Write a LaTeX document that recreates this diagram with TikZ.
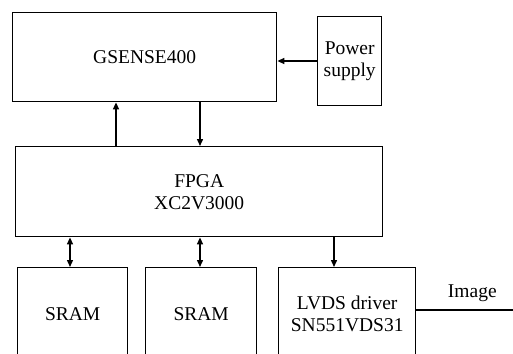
\documentclass[tikz,border=0pt]{standalone}
\usepackage{fontspec}
\setmainfont{Liberation Serif}
\usetikzlibrary{arrows.meta}
\begin{document}
\begin{tikzpicture}[x=1pt,y=-1pt,
  blk/.style={draw, line width=1.4pt, inner sep=0pt, anchor=north west, align=center,
    font=\fontsize{19.5}{22}\selectfont},
  conn/.style={line width=1.4pt, -{Triangle[length=7pt,width=6pt]}},
  dconn/.style={line width=1.4pt, {Triangle[length=7pt,width=6pt]}-{Triangle[length=7pt,width=6pt]}}]
\useasboundingbox (0,0) rectangle (513,353);
\clip (0,0) rectangle (513,353);
\fill[white] (0,0) rectangle (513,353);
\node[blk, minimum width=264pt, minimum height=89pt] (gsense) at (12,12) {GSENSE400};
\node[blk, minimum width=64pt, minimum height=89pt] (power) at (317,16) {Power\\supply};
\node[blk, minimum width=367pt, minimum height=90pt] (fpga) at (15,146) {FPGA\\XC2V3000};
\node[blk, minimum width=110pt, minimum height=93pt] (sram1) at (17,267) {SRAM};
\node[blk, minimum width=111pt, minimum height=93pt] (sram2) at (145,267) {SRAM};
\node[blk, minimum width=137pt, minimum height=93pt] (lvds) at (278,267) {LVDS driver\\SN551VDS31};
\coordinate (out) at (520,310);
\draw[conn] (power.west |- 0,61) -- (gsense.east |- 0,61);
\draw[conn] (116,0 |- fpga.north) -- (116,0 |- gsense.south);
\draw[conn] (200,0 |- gsense.south) -- (200,0 |- fpga.north);
\draw[dconn] (70,0 |- fpga.south) -- (70,0 |- sram1.north);
\draw[dconn] (200,0 |- fpga.south) -- (200,0 |- sram2.north);
\draw[conn] (334,0 |- fpga.south) -- (334,0 |- lvds.north);
\draw[line width=1.4pt] (lvds.east |- out) -- (out)
  node[pos=0.54, above=4pt, font=\fontsize{19.5}{22}\selectfont, black] (imglbl) {Image};
\end{tikzpicture}
\end{document}
